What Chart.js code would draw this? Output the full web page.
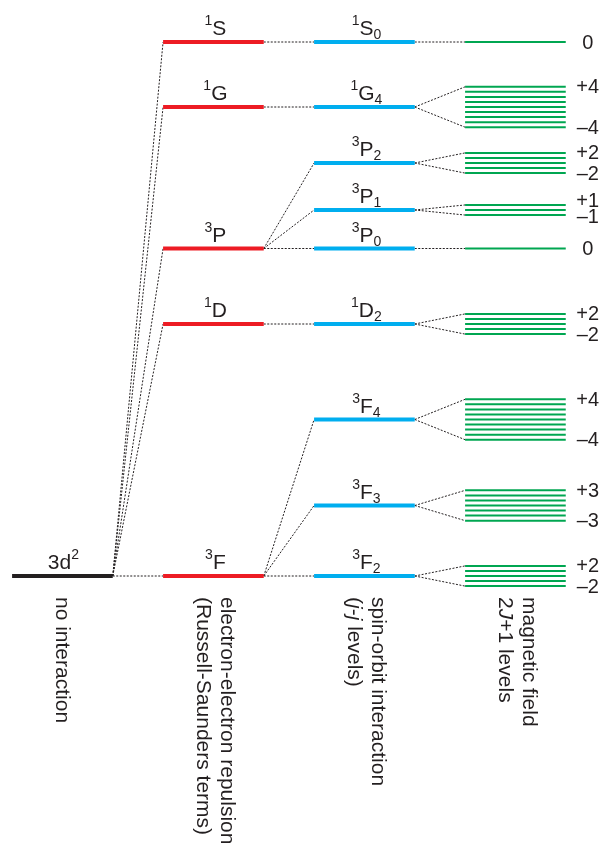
<!DOCTYPE html>
<html>
<head>
<meta charset="utf-8">
<script src="https://cdn.jsdelivr.net/npm/chart.js@4.4.1/dist/chart.umd.min.js"></script>
<style>
  html, body { margin: 0; padding: 0; background: #ffffff; }
  #wrap { width: 603px; height: 846px; position: relative; }
</style>
</head>
<body>
<div id="wrap"><canvas id="diagram"></canvas></div>
<script>
// ---- 3d² free-ion energy levels (arbitrary energy units) ----
const configMain = '3d';
const configSup = '2';
const configEnergy = 0;

// Russell-Saunders terms
const termLetters = ['S', 'G', 'P', 'D', 'F'];
const termMultiplicity = ['1', '1', '3', '1', '3'];
const termEnergy = [534, 469, 327.5, 252, 0];

// spin-orbit (J) levels
const levelTerm = [0, 1, 2, 2, 2, 3, 4, 4, 4];
const levelJ = [0, 4, 2, 1, 0, 2, 4, 3, 2];
const levelEnergy = [534, 469, 413, 366, 327.5, 252, 156.5, 70.5, 0];

// Zeeman shift per unit of M_J
const zeemanStep = 5.05;

// column captions
const captions = [
  [[{ t: 'no interaction' }]],
  [[{ t: 'electron-electron repulsion' }], [{ t: '(Russell-Saunders terms)' }]],
  [[{ t: 'spin-orbit interaction' }], [{ t: '(' }, { t: 'j', i: true }, { t: '-' }, { t: 'j', i: true }, { t: ' levels)' }]],
  [[{ t: 'magnetic field' }], [{ t: '2' }, { t: 'J', i: true }, { t: '+1 levels' }]]
];

// ---- layout / style ----
const COL_START = [0, 1.5, 3, 4.5];
const COL_WIDTH = 1;
const FONT = '"Liberation Sans", Arial, Helvetica, sans-serif';
const TEXT = '#231f20';
const C_CONFIG = '#231f20';
const C_TERM = '#ed1c24';
const C_LEVEL = '#00aeef';
const C_ZEEMAN = '#00a651';
const C_DOT = '#231f20';

const datasets = [];
function segment(x0, y0, x1, y1, color, width, dash, order) {
  datasets.push({
    data: [{ x: x0, y: y0 }, { x: x1, y: y1 }],
    showLine: true,
    borderColor: color,
    backgroundColor: color,
    borderWidth: width,
    borderDash: dash || [],
    borderCapStyle: 'butt',
    pointRadius: 0,
    pointHoverRadius: 0,
    fill: false,
    tension: 0,
    order: order
  });
}
const DOTS = [2, 1.5];

// configuration line
segment(COL_START[0], configEnergy, COL_START[0] + COL_WIDTH, configEnergy, C_CONFIG, 4, null, 0);

// terms + connectors from the configuration
termEnergy.forEach((e) => {
  segment(COL_START[1], e, COL_START[1] + COL_WIDTH, e, C_TERM, 4, null, 0);
  segment(COL_START[0] + COL_WIDTH, configEnergy, COL_START[1], e, C_DOT, 1, DOTS, 1);
});

// J levels + connectors from their parent terms, Zeeman sublevels + fans
levelEnergy.forEach((e, k) => {
  const parent = termEnergy[levelTerm[k]];
  segment(COL_START[2], e, COL_START[2] + COL_WIDTH, e, C_LEVEL, 4, null, 0);
  segment(COL_START[1] + COL_WIDTH, parent, COL_START[2], e, C_DOT, 1, DOTS, 1);
  const J = levelJ[k];
  for (let m = -J; m <= J; m++) {
    const em = e + m * zeemanStep;
    segment(COL_START[3], em, COL_START[3] + COL_WIDTH, em, C_ZEEMAN, 2, null, 0);
  }
  if (J === 0) {
    segment(COL_START[2] + COL_WIDTH, e, COL_START[3], e, C_DOT, 1, DOTS, 1);
  } else {
    segment(COL_START[2] + COL_WIDTH, e, COL_START[3], e + J * zeemanStep, C_DOT, 1, DOTS, 1);
    segment(COL_START[2] + COL_WIDTH, e, COL_START[3], e - J * zeemanStep, C_DOT, 1, DOTS, 1);
  }
});

// draws a run of differently sized / shifted text pieces
function drawRich(ctx, parts, x, y, align) {
  let total = 0;
  parts.forEach((p) => {
    ctx.font = (p.i ? 'italic ' : '') + p.size + 'px ' + FONT;
    p.w = ctx.measureText(p.t).width;
    total += p.w;
  });
  let cx = align === 'center' ? x - total / 2 : x;
  parts.forEach((p) => {
    ctx.font = (p.i ? 'italic ' : '') + p.size + 'px ' + FONT;
    ctx.fillText(p.t, cx, y + (p.dy || 0));
    cx += p.w;
  });
}

const labelPlugin = {
  id: 'levelLabels',
  afterDatasetsDraw(chart) {
    const ctx = chart.ctx;
    const xs = chart.scales.x;
    const ys = chart.scales.y;
    const colCenter = (i) => xs.getPixelForValue(COL_START[i] + COL_WIDTH / 2);
    ctx.save();
    ctx.fillStyle = TEXT;
    ctx.textAlign = 'left';
    ctx.textBaseline = 'alphabetic';

    // configuration label
    drawRich(ctx, [
      { t: configMain, size: 21 },
      { t: configSup, size: 14, dy: -10 }
    ], colCenter(0) + 1, ys.getPixelForValue(configEnergy) - 7, 'center');

    // term labels
    termLetters.forEach((L, k) => {
      drawRich(ctx, [
        { t: termMultiplicity[k], size: 14, dy: -10 },
        { t: L, size: 21 }
      ], colCenter(1) + 2, ys.getPixelForValue(termEnergy[k]) - 7, 'center');
    });

    // J level labels
    levelEnergy.forEach((e, k) => {
      const t = levelTerm[k];
      drawRich(ctx, [
        { t: termMultiplicity[t], size: 14, dy: -10 },
        { t: termLetters[t], size: 21 },
        { t: String(levelJ[k]), size: 14, dy: 4 }
      ], colCenter(2) + 2, ys.getPixelForValue(e) - 7, 'center');
    });

    // M_J range labels
    ctx.textAlign = 'center';
    ctx.textBaseline = 'middle';
    ctx.font = '20px ' + FONT;
    const mx = xs.getPixelForValue(COL_START[3] + COL_WIDTH) + 22;
    levelEnergy.forEach((e, k) => {
      const J = levelJ[k];
      const yc = ys.getPixelForValue(e);
      if (J === 0) {
        ctx.fillText('0', mx, yc + 1);
      } else {
        const spread = ys.getPixelForValue(e - J * zeemanStep) - yc;
        const half = Math.max(spread, 8);
        const lift = spread < 8 ? 2 : 0;
        ctx.fillText('+' + J, mx, yc - half + 1 - lift);
        ctx.fillText('\u2013' + J, mx, yc + half + 1 - lift);
      }
    });

    // rotated column captions
    ctx.textAlign = 'left';
    ctx.textBaseline = 'middle';
    captions.forEach((lines, i) => {
      const offsets = lines.length === 1 ? [-1] : [13, -11];
      lines.forEach((parts, li) => {
        ctx.save();
        ctx.translate(colCenter(i) + offsets[li], 597);
        ctx.rotate(Math.PI / 2);
        drawRich(ctx, parts.map((p) => Object.assign({ size: 21 }, p)), 0, 0, 'left');
        ctx.restore();
      });
    });

    ctx.restore();
  }
};

new Chart(document.getElementById('diagram'), {
  type: 'scatter',
  data: { datasets: datasets },
  options: {
    responsive: true,
    maintainAspectRatio: false,
    animation: false,
    devicePixelRatio: 1,
    layout: { padding: 0 },
    events: [],
    plugins: {
      legend: { display: false },
      tooltip: { enabled: false }
    },
    scales: {
      x: { type: 'linear', min: -0.12, max: 5.87, display: false },
      y: { type: 'linear', min: -270, max: 576, display: false }
    }
  },
  plugins: [labelPlugin]
});
</script>
</body>
</html>
